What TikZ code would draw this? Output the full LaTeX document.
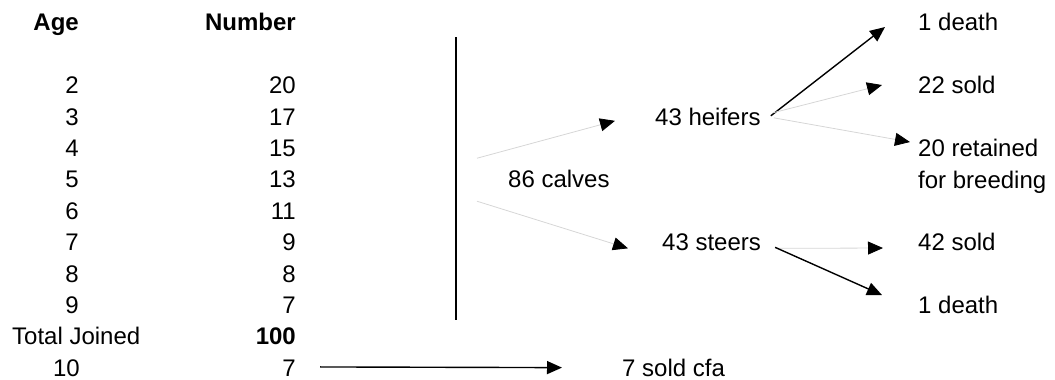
\documentclass[tikz,border=0pt]{standalone}
\usepackage{fontspec}
\setmainfont{Liberation Sans}
\usetikzlibrary{arrows.meta,calc}
\begin{document}
\begin{tikzpicture}[x=1pt,y=-1pt,
  txt/.style={inner sep=0pt,font=\fontsize{24}{28}\selectfont},
  tab/.style={txt,anchor=base east},
  lbl/.style={txt,anchor=base west},
  garrow/.style={draw=black!16,line width=0.8pt,-{Triangle[length=15pt,width=13pt,color=black]}},
  barrow/.style={draw=black,line width=1.4pt,-{Triangle[length=15pt,width=13pt]}}
]
\useasboundingbox (0,0) rectangle (1055,380);

% table
\node[tab] (agehead) at (79,30.6) {\bfseries Age};
\node[tab] (numhead) at (296,30.6) {\bfseries Number};
\foreach \a/\n [count=\i from 0] in {2/20,3/17,4/15,5/13,6/11,7/9,8/8,9/7} {
  \node[tab] (age\a) at (79,{93.6+31.4*\i}) {\a};
  \node[tab] (num\a) at (296,{93.6+31.4*\i}) {\n};
}
\node[lbl] (total) at (12,344.8) {Total Joined};
\node[tab] (totalnum) at (296,344.8) {\bfseries 100};
\node[tab] (age10) at (80,376.2) {10};
\node[tab] (num10) at (296,376.2) {7};

% divider
\draw[line width=2pt] (456,37) -- (456,320);

% tree
\node[lbl] (calves) at (508,187.8) {86 calves};
\node[lbl] (heifers) at (655,125.4) {43 heifers};
\node[lbl] (steers) at (662,250.6) {43 steers};
\node[lbl] (deathA) at (918,30.6) {1 death};
\node[lbl] (soldA) at (918,93.6) {22 sold};
\node[lbl] (retA) at (918,156.6) {20 retained};
\node[lbl] (retB) at (918,188) {for breeding};
\node[lbl] (soldB) at (918,250.6) {42 sold};
\node[lbl] (deathB) at (918,313.6) {1 death};
\node[lbl] (cfa) at (622,376.2) {7 sold cfa};

\draw[garrow] ($(calves.west)+(-31,-21)$) -- ($(heifers.west)+(-40,4)$);
\draw[garrow] ($(calves.west)+(-31,22)$) -- ($(steers.west)+(-34,6)$);
\draw[barrow] ($(heifers.east)+(10,-1)$) -- ($(deathA.west)+(-33,5)$);
\draw[garrow] ($(heifers.east)+(12,-4)$) -- ($(soldA.west)+(-36,0)$);
\draw[garrow] ($(heifers.east)+(13,1)$) -- ($(retA.west)+(-8,-6)$);
\draw[garrow] ($(steers.east)+(14,6)$) -- ($(soldB.west)+(-35,6)$);
\draw[barrow] ($(steers.east)+(14,5)$) -- ($(deathB.west)+(-36,-10)$);
\draw[barrow] ($(num10.east)+(24,-1)$) -- ($(cfa.west)+(-60,0)$);
\end{tikzpicture}
\end{document}
